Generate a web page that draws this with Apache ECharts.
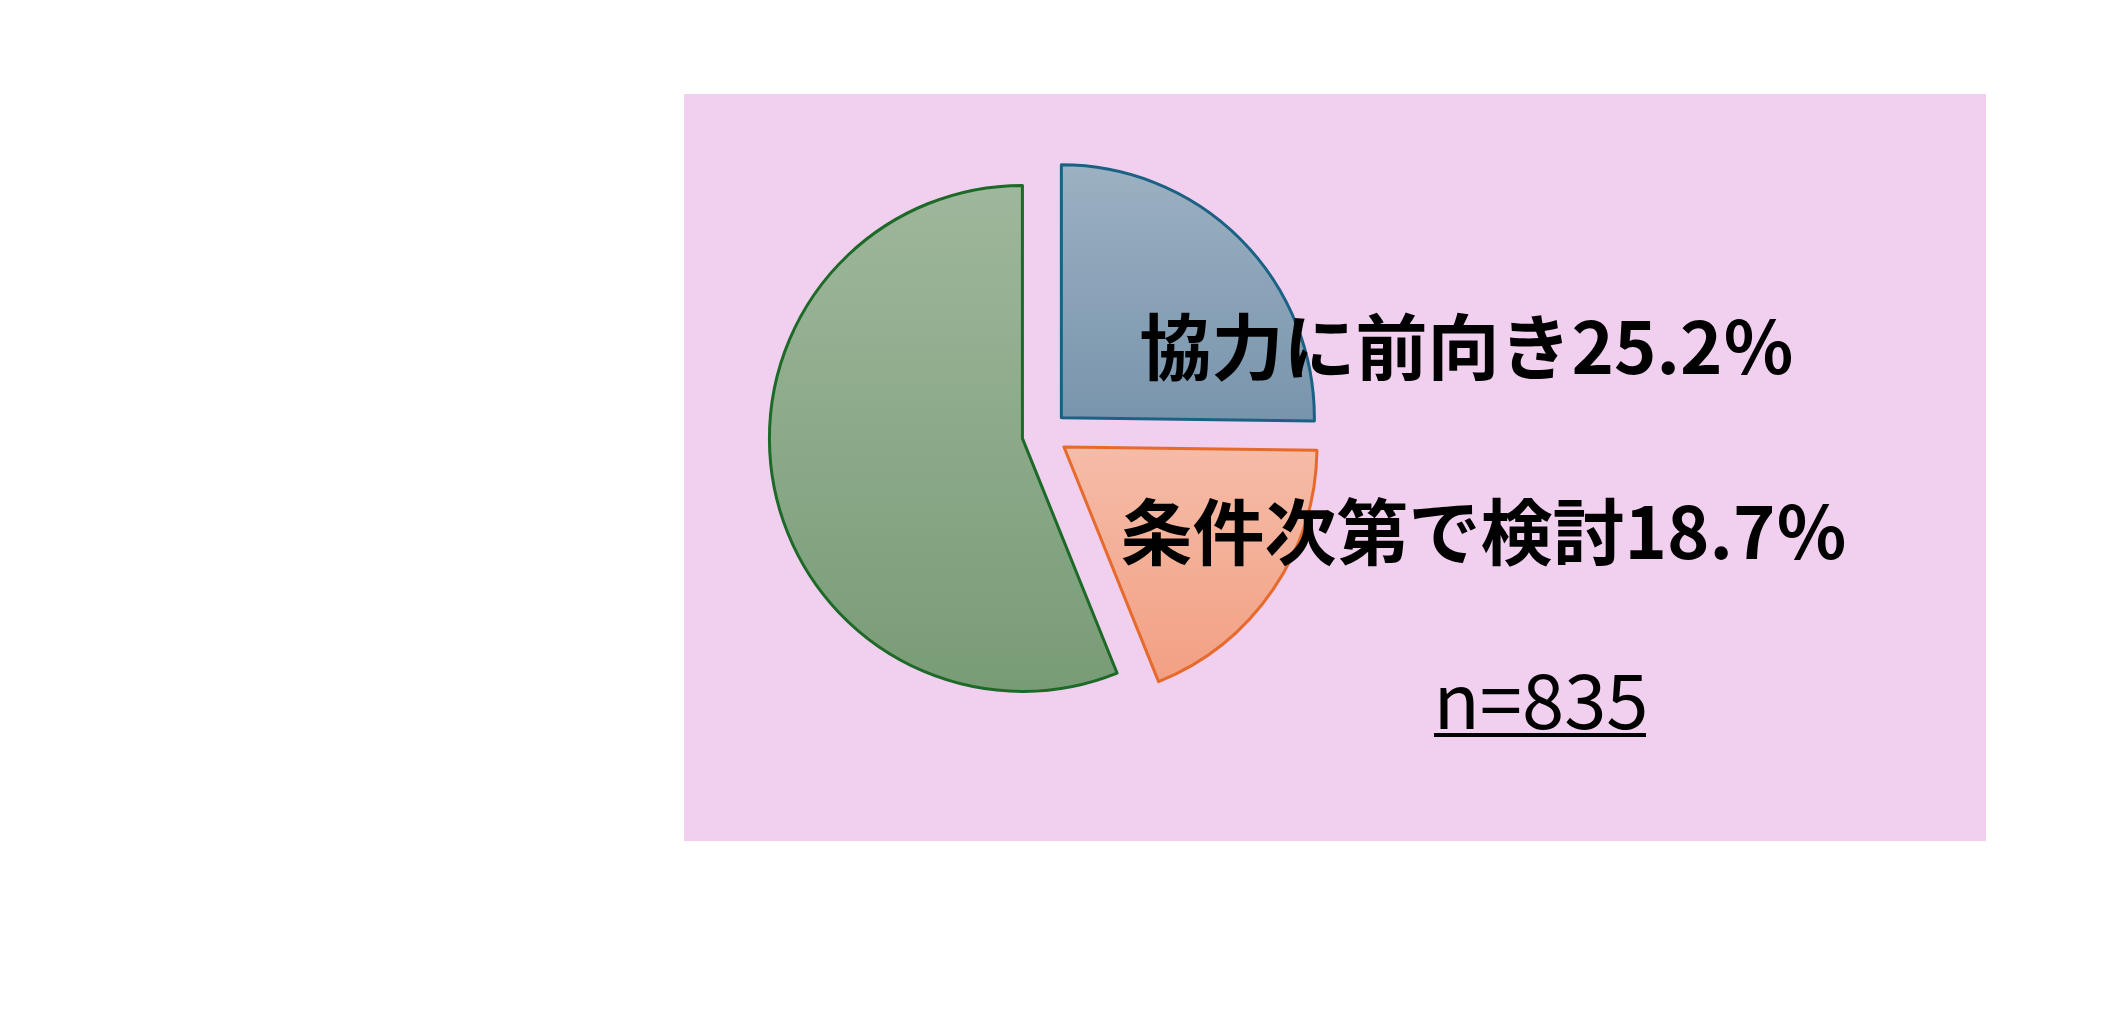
<!DOCTYPE html>
<html>
<head>
<meta charset="utf-8">
<script src="https://cdn.jsdelivr.net/npm/echarts@6/dist/echarts.min.js"></script>
<style>
html,body{margin:0;padding:0;background:#fff;}
#main{width:2110px;height:1035px;}
</style>
</head>
<body>
<div id="main"></div>
<script>
const categories = ['協力に前向き', '条件次第で検討', 'その他'];
const values = [25.2, 18.7, 56.1];
const sampleSize = 835;
const showLabel = [true, true, false];

const fills = [
  ['#9CB1C2', '#7894AC'],
  ['#F5BCA8', '#F2A083'],
  ['#9FB79C', '#789C76']
];
const borders = ['#1B6184', '#E66A2C', '#1D6A28'];

const chart = echarts.init(document.getElementById('main'));

const pieData = categories.map((c, i) => ({
  name: c,
  value: values[i],
  selected: true,
  itemStyle: {
    color: new echarts.graphic.LinearGradient(0, 0, 0, 1, [
      { offset: 0, color: fills[i][0] },
      { offset: 1, color: fills[i][1] }
    ]),
    borderColor: borders[i],
    borderWidth: 3
  }
}));

const labelFont = 'bold 72px "Noto Sans CJK JP", sans-serif';
const labelPos = [[1467, 347], [1484, 532]];
const texts = [];
categories.forEach((c, i) => {
  if (!showLabel[i]) return;
  texts.push({
    type: 'text',
    x: labelPos[i][0],
    y: labelPos[i][1],
    z: 10,
    style: {
      text: c + values[i].toFixed(1) + '％',
      font: labelFont,
      fill: '#000',
      textAlign: 'center',
      textVerticalAlign: 'middle'
    }
  });
});

chart.setOption({
  animation: false,
  backgroundColor: '#ffffff',
  graphic: [
    {
      type: 'rect',
      z: -10,
      shape: { x: 684, y: 94, width: 1302, height: 747 },
      style: { fill: '#F1CFEE' }
    },
    ...texts,
    {
      type: 'text',
      x: 1541,
      y: 700,
      z: 10,
      style: {
        text: 'n=' + sampleSize,
        font: '76px "Noto Sans CJK JP", sans-serif',
        fill: '#000',
        textAlign: 'center',
        textVerticalAlign: 'middle'
      }
    },
    {
      type: 'line',
      z: 10,
      shape: { x1: 1434, y1: 735, x2: 1646, y2: 735 },
      style: { stroke: '#000', lineWidth: 4 }
    }
  ],
  series: [{
    type: 'pie',
    center: [1045, 434],
    radius: 253,
    startAngle: 90,
    clockwise: true,
    selectedMode: 'multiple',
    selectedOffset: 23,
    label: { show: false },
    labelLine: { show: false },
    emphasis: { disabled: true },
    data: pieData
  }]
});
</script>
</body>
</html>
